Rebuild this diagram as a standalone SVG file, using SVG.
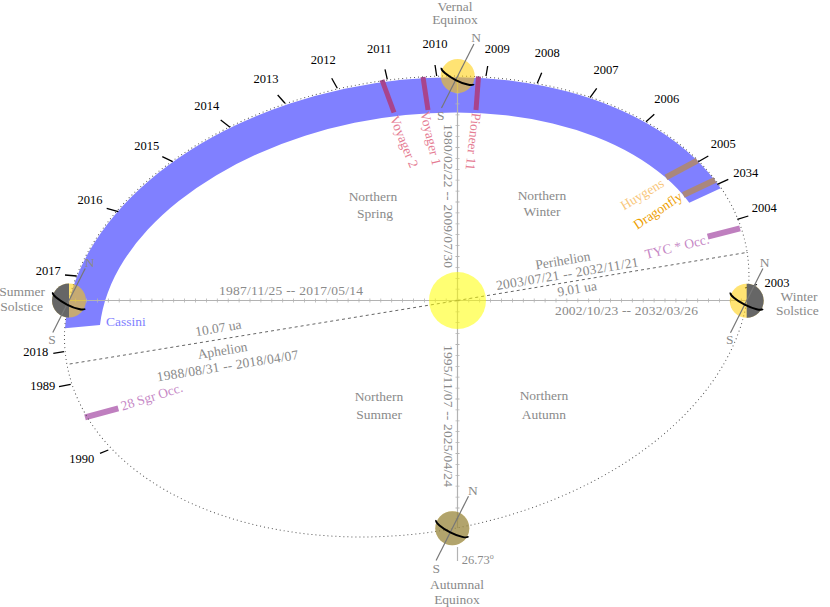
<svg xmlns="http://www.w3.org/2000/svg" width="830" height="607" viewBox="0 0 830 607">
<style>
.lbl{font-family:"Liberation Serif","DejaVu Serif",serif;font-size:13.5px;fill:#8a8a8a;text-anchor:middle}
.yr{font-family:"Liberation Serif","DejaVu Serif",serif;font-size:12.5px;fill:#000;text-anchor:middle}
.ns{font-family:"Liberation Serif","DejaVu Serif",serif;font-size:13.5px;fill:#8a8a8a;text-anchor:middle}
.tick{stroke:#000;stroke-width:1.3}
.ax{stroke:#b3b3b3;stroke-width:1.2;fill:none}
.axt{stroke:#b3b3b3;stroke-width:4;stroke-dasharray:0.8 10.1;fill:none}
.dash{stroke:#666;stroke-width:1;stroke-dasharray:3 3;fill:none}
.orbit{fill:none;stroke:#555;stroke-width:1;stroke-dasharray:1 3}
.lit{fill:#ffcc00;fill-opacity:0.55}
.dark{fill:#666}
.paxis{stroke:#777;stroke-width:1.2}
.ring{fill:none;stroke:#000;stroke-width:2}
.vbar{stroke:#a8448c;stroke-width:5}
.hbar{stroke:#aa877d;stroke-width:6}
.obar{stroke:#bf7fbf;stroke-width:6}
</style>

<g id="cassini-band">
<path d="M 65 328.3 A 344.7 226.8 -9.1 0 1 720.7 188.3 L 689.3 202.7 A 310.7 192.8 -9.1 0 0 100 325 Z" fill="#8080ff"/>
</g>

<g id="mission-bars">
<line class="vbar" x1="382" y1="80" x2="394" y2="112.5"/>
<line class="vbar" x1="423" y1="77" x2="428" y2="110"/>
<line class="vbar" x1="478.5" y1="76.5" x2="476" y2="110"/>
<line class="hbar" x1="666" y1="177.3" x2="697.3" y2="160.7"/>
<line class="hbar" x1="683.3" y1="195" x2="715" y2="180"/>
<line class="obar" x1="707.7" y1="236.7" x2="740" y2="228.3"/>
<line class="obar" x1="85" y1="417.3" x2="118.3" y2="408.3"/>
</g>

<g id="orbit">
<ellipse class="orbit" cx="406.7" cy="306.5" rx="344.7" ry="226.8" transform="rotate(-9.1 406.7 306.5)"/>
</g>

<g id="connectors">
<line class="ax" x1="69" y1="300.5" x2="747" y2="300.5"/>
<line class="axt" x1="457.5" y1="300.5" x2="747" y2="300.5"/>
<line class="axt" x1="457.5" y1="300.5" x2="69" y2="300.5"/>
<line class="ax" x1="457.5" y1="76" x2="457.5" y2="528"/>
<line class="axt" x1="457.5" y1="300.5" x2="457.5" y2="76"/>
<line class="axt" x1="457.5" y1="300.5" x2="457.5" y2="528"/>
<line class="ax" x1="457.5" y1="547" x2="457.5" y2="561"/>
<line class="dash" x1="457.5" y1="300.5" x2="746.5" y2="252.5"/>
<line class="dash" x1="457.5" y1="300.5" x2="66.7" y2="364.5"/>
</g>

<g id="sun">
<circle cx="457.5" cy="300.5" r="28.5" fill="#ffff00" fill-opacity="0.55"/>
</g>

<g id="year-ticks">
<line class="tick" x1="757" y1="284.5" x2="745" y2="288"/>
<line class="tick" x1="748.3" y1="216" x2="737.3" y2="219.3"/>
<line class="tick" x1="728.3" y1="179.3" x2="717.3" y2="184.3"/>
<line class="tick" x1="708.3" y1="156" x2="698.3" y2="161.7"/>
<line class="tick" x1="654.3" y1="114.3" x2="646" y2="121.7"/>
<line class="tick" x1="596.7" y1="88.3" x2="590" y2="97.7"/>
<line class="tick" x1="541.7" y1="72.7" x2="537.3" y2="83.3"/>
<line class="tick" x1="487.7" y1="66" x2="486" y2="76"/>
<line class="tick" x1="435" y1="65" x2="436.7" y2="76"/>
<line class="tick" x1="385" y1="69.3" x2="387.3" y2="79.3"/>
<line class="tick" x1="331.7" y1="78.3" x2="337.3" y2="88.3"/>
<line class="tick" x1="277.7" y1="95" x2="285" y2="103.3"/>
<line class="tick" x1="220.7" y1="120" x2="230" y2="127.3"/>
<line class="tick" x1="162.3" y1="156.7" x2="172.7" y2="161.7"/>
<line class="tick" x1="106.7" y1="208.3" x2="118.3" y2="211.7"/>
<line class="tick" x1="65" y1="275" x2="76.7" y2="276"/>
<line class="tick" x1="53.3" y1="353.3" x2="64" y2="351.7"/>
<line class="tick" x1="59" y1="386.7" x2="70.7" y2="384.3"/>
<line class="tick" x1="100" y1="453.3" x2="108.3" y2="450"/>
</g>

<g id="planet-vernal" transform="translate(457.7,76)">
<circle r="17" class="lit"/>
<line class="paxis" x1="-16.2" y1="32.1" x2="16.2" y2="-32.1"/>
<path class="ring" transform="rotate(26.73)" d="M -18 0 A 18 4.5 0 0 0 18 0"/>
<text class="ns" x="18.5" y="-34">N</text>
<text class="ns" x="-17" y="43.5">S</text>
</g>

<g id="planet-summer" transform="translate(69,300.5)">
<circle r="17" class="lit"/>
<path class="dark" d="M 0 -17 A 17 17 0 0 0 0 17 Z"/>
<line class="paxis" x1="-16.2" y1="32.1" x2="16.2" y2="-32.1"/>
<path class="ring" transform="rotate(26.73)" d="M -18 0 A 18 4.5 0 0 0 18 0"/>
<text class="ns" x="20.5" y="-34">N</text>
<text class="ns" x="-17" y="43.5">S</text>
</g>

<g id="planet-winter" transform="translate(746.7,300.7)">
<circle r="17" class="lit"/>
<path class="dark" d="M 0 -17 A 17 17 0 0 1 0 17 Z"/>
<line class="paxis" x1="-16.2" y1="32.1" x2="16.2" y2="-32.1"/>
<path class="ring" transform="rotate(26.73)" d="M -18 0 A 18 4.5 0 0 0 18 0"/>
<text class="ns" x="18" y="-34">N</text>
<text class="ns" x="-17" y="43.5">S</text>
</g>

<g id="planet-autumnal" transform="translate(452.3,528.3)">
<circle r="17" class="lit"/>
<circle r="17" fill="#666" fill-opacity="0.5"/>
<line class="paxis" x1="-16.2" y1="32.1" x2="16.2" y2="-32.1"/>
<path class="ring" transform="rotate(26.73)" d="M -18 0 A 18 4.5 0 0 0 18 0"/>
<text class="ns" x="20.5" y="-33">N</text>
<text class="ns" x="-16" y="44.5">S</text>
</g>

<g id="year-labels">
<text class="yr" x="777" y="287">2003</text>
<text class="yr" x="764.3" y="212">2004</text>
<text class="yr" x="745.7" y="177">2034</text>
<text class="yr" x="723.3" y="148">2005</text>
<text class="yr" x="666.7" y="103">2006</text>
<text class="yr" x="606" y="74">2007</text>
<text class="yr" x="547.3" y="57.3">2008</text>
<text class="yr" x="497.3" y="52.5">2009</text>
<text class="yr" x="435" y="48.3">2010</text>
<text class="yr" x="379.3" y="53.3">2011</text>
<text class="yr" x="323.3" y="64">2012</text>
<text class="yr" x="266" y="83">2013</text>
<text class="yr" x="206.7" y="110">2014</text>
<text class="yr" x="146.7" y="150">2015</text>
<text class="yr" x="90" y="204">2016</text>
<text class="yr" x="48.3" y="275">2017</text>
<text class="yr" x="35.7" y="356">2018</text>
<text class="yr" x="42.7" y="390">1989</text>
<text class="yr" x="81.7" y="463">1990</text>
</g>

<g id="position-labels">
<text class="lbl" x="455" y="10.5">Vernal</text>
<text class="lbl" x="455" y="24">Equinox</text>
<text class="lbl" x="457" y="589.3">Autumnal</text>
<text class="lbl" x="457" y="604">Equinox</text>
<text class="lbl" x="22" y="295.7">Summer</text>
<text class="lbl" x="21.7" y="311">Solstice</text>
<text class="lbl" x="799" y="301">Winter</text>
<text class="lbl" x="797.3" y="315">Solstice</text>
<text class="lbl" x="461.7" y="563.5" style="text-anchor:start;font-size:12.5px">26.73<tspan font-size="8" dy="-5">o</tspan></text>
</g>

<g id="season-labels">
<text class="lbl" x="373" y="201">Northern</text>
<text class="lbl" x="375" y="218">Spring</text>
<text class="lbl" x="542" y="200">Northern</text>
<text class="lbl" x="542" y="216">Winter</text>
<text class="lbl" x="379" y="400.5">Northern</text>
<text class="lbl" x="379" y="419">Summer</text>
<text class="lbl" x="544" y="400">Northern</text>
<text class="lbl" x="544" y="419">Autumn</text>
</g>

<g id="axis-labels">
<text class="lbl" x="291" y="295" textLength="144" lengthAdjust="spacing">1987/11/25 -- 2017/05/14</text>
<text class="lbl" x="626.5" y="315" textLength="143" lengthAdjust="spacing">2002/10/23 -- 2032/03/26</text>
<text class="lbl" transform="translate(448.5,196) rotate(90)" x="0" y="4.5" textLength="144" lengthAdjust="spacing">1980/02/22 -- 2009/07/30</text>
<text class="lbl" transform="translate(448.5,416) rotate(90)" x="0" y="4.5" textLength="142" lengthAdjust="spacing">1995/11/07 -- 2025/04/24</text>
<text class="lbl" transform="translate(562.8,260.5) rotate(-9.4)" x="0" y="4.5">Perihelion</text>
<text class="lbl" transform="translate(567.2,273.8) rotate(-9.5)" x="0" y="4.5" textLength="144" lengthAdjust="spacing">2003/07/21 -- 2032/11/21</text>
<text class="lbl" transform="translate(577,288.8) rotate(-9.4)" x="0" y="4.5">9.01 ua</text>
<text class="lbl" transform="translate(218.3,328) rotate(-9.4)" x="0" y="4.5">10.07 ua</text>
<text class="lbl" transform="translate(222.5,350.5) rotate(-9.4)" x="0" y="4.5">Aphelion</text>
<text class="lbl" transform="translate(227.5,365.8) rotate(-9.0)" x="0" y="4.5" textLength="143" lengthAdjust="spacing">1988/08/31 -- 2018/04/07</text>
</g>

<g id="mission-labels">
<text class="lbl" style="fill:#8080ff;text-anchor:start" x="106" y="326">Cassini</text>
<text class="lbl" style="fill:#e57c93" transform="translate(404.2,141.7) rotate(67.9)" x="0" y="4.5">Voyager 2</text>
<text class="lbl" style="fill:#e57c93" transform="translate(430.8,138.3) rotate(77)" x="0" y="4.5">Voyager 1</text>
<text class="lbl" style="fill:#e57c93" transform="translate(473.3,141.7) rotate(96.4)" x="0" y="4.5">Pioneer 11</text>
<text class="lbl" style="fill:#f8c67a" transform="translate(642.2,194.2) rotate(-31)" x="0" y="4.5">Huygens</text>
<text class="lbl" style="fill:#eea000" transform="translate(657.8,210.5) rotate(-34)" x="0" y="4.5">Dragonfly</text>
<text class="lbl" style="fill:#c688c6" transform="translate(677,246.7) rotate(-13.9)" x="0" y="4.5">TYC * Occ.</text>
<text class="lbl" style="fill:#c688c6" transform="translate(151.7,396.7) rotate(-17.5)" x="0" y="4.5">28 Sgr Occ.</text>
</g>
</svg>
